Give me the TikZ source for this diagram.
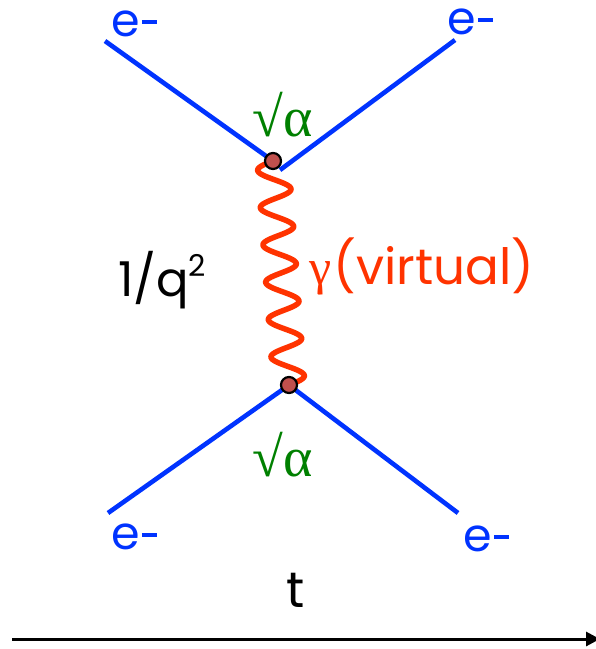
\documentclass[tikz,border=0pt]{standalone}
\usepackage{fontspec}
\setmainfont{Poppins}
\newfontfamily\grk{Liberation Serif}
\usetikzlibrary{arrows.meta}
\definecolor{eblue}{RGB}{0,51,255}
\definecolor{phred}{RGB}{255,51,0}
\definecolor{vtx}{RGB}{192,80,77}
\definecolor{cgreen}{RGB}{0,128,0}
\newcommand{\emin}{e\kern2pt\rule[0.27em]{0.32em}{0.085em}}
\tikzset{
  fermion/.style={eblue, line width=4.6pt},
  photon/.style={phred, line width=5.5pt, line cap=round},
  vertex/.style={circle, fill=vtx, draw=black, line width=2.2pt, minimum size=16pt, inner sep=0pt},
  elabel/.style={eblue, font=\fontsize{46}{46}\selectfont, inner sep=0pt},
  glabel/.style={cgreen, font=\grk\fontsize{56}{56}\selectfont, inner sep=0pt},
  taxis/.style={black, line width=3pt, -{Triangle[length=14pt,width=14pt]}}
}
\begin{document}
\begin{tikzpicture}[x=1pt,y=-1pt]
\useasboundingbox (0,0) rectangle (596,649);
\clip (0,0) rectangle (596,649);
% vertices positions
\coordinate (v1c) at (273,161);
\coordinate (v2c) at (289,385);
% external ends
\coordinate (tl) at (105,41);
\coordinate (tr) at (455,40);
\coordinate (trs) at (280,170);
\coordinate (bl) at (108,513);
\coordinate (br) at (458,513);
% fermion lines
\draw[fermion] (tl) -- (v1c);
\draw[fermion] (trs) -- (tr);
\draw[fermion] (bl) -- (v2c);
\draw[fermion] (v2c) -- (br);
% photon
\draw[photon] plot[domain=0:1, samples=240, smooth, variable=\t]
  ({273+16*\t-16*sin(2160*\t)}, {161+224*\t});
% vertex blobs
\node[vertex] (v1) at (v1c) {};
\node[vertex] (v2) at (v2c) {};
% labels
\node[elabel] (e1) at (134,24) {\emin};
\node[elabel] (e2) at (470,22) {\emin};
\node[elabel] (e3) at (134,537) {\emin};
\node[elabel] (e4) at (486,539) {\emin};
\node[glabel] (a1) at (283,115) {√α};
\node[glabel] (a2) at (283,455) {√α};
\node[phred, font=\fontsize{50}{50}\selectfont, inner sep=0pt] (g) at (422,266) {{\grk γ}\kern2pt(virtual)};
\node[black, font=\fontsize{48}{48}\selectfont, inner sep=0pt] (q) at (162,280) {1/q\raisebox{0.42em}{\fontsize{30}{30}\selectfont 2}};
\node[black, font=\fontsize{50}{50}\selectfont, inner sep=0pt] (tt) at (296,590) {t};
% time axis
\coordinate (ax0) at (12,639);
\coordinate (ax1) at (600,639);
\draw[taxis] (ax0) -- (ax1);
\end{tikzpicture}
\end{document}
